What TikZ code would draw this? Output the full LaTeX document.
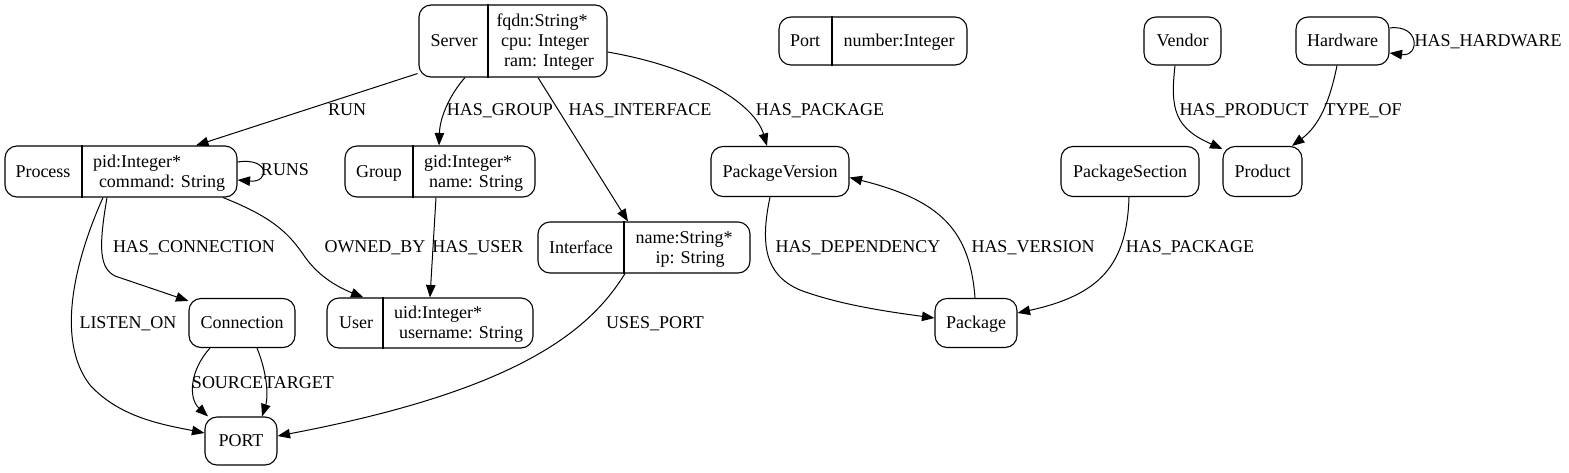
\documentclass[tikz,border=0pt]{standalone}
\usepackage{fontspec}
\setmainfont{Liberation Serif}
\usetikzlibrary{arrows.meta}
\begin{document}
\begin{tikzpicture}[x=1pt,y=-1pt,
  box/.style={draw, rounded corners=12pt, line width=1.1pt, inner sep=0pt,
    font=\fontsize{18}{20}\selectfont, text height=11.9pt, text depth=0pt},
  txt/.style={inner sep=0pt, text height=11.9pt, text depth=0pt, font=\fontsize{18}{20}\selectfont},
  divider/.style={line width=1.1pt},
  edge/.style={draw, line width=1pt, -{Triangle[length=12.5pt,width=9.5pt]}},
  ]
\useasboundingbox (0,0) rectangle (1569,472);

% ---------- nodes ----------
\node[box, minimum width=188pt, minimum height=72pt] (server) at (513,41) {};
\draw[divider] ([xshift=-25pt]server.north) -- ([xshift=-25pt]server.south);
\node[txt] (server-n) at (454,41) {Server};
\node[txt] (server-f1) at (542,21) {fqdn:String*};
\node[txt] (server-f2) at (545,41) {cpu: Integer};
\node[txt] (server-f3) at (549,61) {ram: Integer};

\node[box, minimum width=188pt, minimum height=48pt] (portrec) at (873,41) {};
\draw[divider] ([xshift=-41pt]portrec.north) -- ([xshift=-41pt]portrec.south);
\node[txt] (portrec-n) at (805,41) {Port};
\node[txt] (portrec-f1) at (899,41) {number:Integer};

\node[box, minimum width=77pt, minimum height=48pt] (vendor) at (1182.5,41) {Vendor};
\node[box, minimum width=93pt, minimum height=48pt] (hardware) at (1342.5,41) {Hardware};

\node[box, minimum width=232pt, minimum height=51pt] (process) at (121,171.5) {};
\draw[divider] ([xshift=-39pt]process.north) -- ([xshift=-39pt]process.south);
\node[txt] (process-n) at (43,171.5) {Process};
\node[txt] (process-f1) at (137,161.5) {pid:Integer*};
\node[txt] (process-f2) at (162,181.5) {command: String};

\node[box, minimum width=190pt, minimum height=51pt] (group) at (440,171.5) {};
\draw[divider] ([xshift=-27pt]group.north) -- ([xshift=-27pt]group.south);
\node[txt] (group-n) at (379,171.5) {Group};
\node[txt] (group-f1) at (468,161.5) {gid:Integer*};
\node[txt] (group-f2) at (476,181.5) {name: String};

\node[box, minimum width=138pt, minimum height=50pt] (pv) at (780,171.5) {PackageVersion};
\node[box, minimum width=138pt, minimum height=50pt] (ps) at (1130,171.5) {PackageSection};
\node[box, minimum width=79pt, minimum height=50pt] (product) at (1262.5,171.5) {Product};

\node[box, minimum width=212pt, minimum height=51pt] (interface) at (644,247.5) {};
\draw[divider] ([xshift=-20pt]interface.north) -- ([xshift=-20pt]interface.south);
\node[txt] (interface-n) at (581,247.5) {Interface};
\node[txt] (interface-f1) at (684,237.5) {name:String*};
\node[txt] (interface-f2) at (690,257.5) {ip: String};

\node[box, minimum width=106pt, minimum height=49pt] (connection) at (242,323) {Connection};

\node[box, minimum width=206pt, minimum height=50pt] (user) at (430,323) {};
\draw[divider] ([xshift=-47pt]user.north) -- ([xshift=-47pt]user.south);
\node[txt] (user-n) at (356,323) {User};
\node[txt] (user-f1) at (438,313) {uid:Integer*};
\node[txt] (user-f2) at (461,333) {username: String};

\node[box, minimum width=82pt, minimum height=49pt] (package) at (976,323) {Package};
\node[box, minimum width=72pt, minimum height=48pt] (PORT) at (241,441) {PORT};

% ---------- edges ----------
\draw[edge] ([xshift=-1pt,yshift=4pt]server.south west) -- ([xshift=75pt]process.north);
\draw[edge] ([xshift=-48pt]server.south) .. controls (452,92) and (440,115) .. ([xshift=-1pt]group.north);
\draw[edge] ([xshift=25pt]server.south) -- ([xshift=-16pt]interface.north);
\draw[edge] ([yshift=-11pt]server.east) .. controls (700,68) and (755,105) .. ([xshift=-13pt]pv.north);
\draw[edge] ([yshift=9.5pt]process.east) .. controls (270,157) and (270,183) .. ([yshift=-8.5pt]process.east);
\draw[edge] ([xshift=-14pt]process.south) .. controls (98,250) and (100,268) .. (115,276) -- ([yshift=-3pt]connection.north west);
\draw[edge] ([xshift=102pt]process.south) .. controls (275,218) and (290,235) .. (305,257) .. controls (320,278) and (340,288) .. ([xshift=37pt]user.north west);
\draw[edge] ([xshift=-18pt]process.south) .. controls (75,260) and (55,340) .. (90,385) .. controls (120,418) and (165,425) .. ([yshift=8pt]PORT.west);
\draw[edge] ([xshift=-4pt]group.south) -- (user.north);
\draw[edge] ([xshift=-32pt]connection.south) .. controls (190,370) and (188,398) .. ([xshift=-33pt]PORT.north);
\draw[edge] ([xshift=15pt]connection.south) .. controls (268,375) and (268,398) .. ([xshift=21pt]PORT.north);
\draw[edge] ([xshift=-19pt]interface.south) .. controls (590,330) and (520,390) .. ([yshift=5pt]PORT.east);
\draw[edge] ([xshift=-10pt]pv.south) .. controls (760,245) and (765,275) .. (800,290) .. controls (840,305) and (890,312) .. ([yshift=5pt]package.west);
\draw[edge] ([xshift=-1pt]package.north) .. controls (970,230) and (940,200) .. ([yshift=-6pt]pv.east);
\draw[edge] ([xshift=-1pt]ps.south) .. controls (1127,265) and (1100,295) .. ([yshift=10pt]package.east);
\draw[edge] ([xshift=-7.5pt]vendor.south) .. controls (1170,110) and (1175,128) .. ([yshift=-3pt]product.north west);
\draw[edge] ([xshift=-5.5pt]hardware.south) .. controls (1330,100) and (1320,125) .. ([xshift=29.5pt]product.north);
\draw[edge] ([yshift=13pt]hardware.east) .. controls (1420,24) and (1420,57) .. ([yshift=-12pt]hardware.east);

% ---------- edge labels ----------
\node[txt] (l-run) at (347,110) {RUN};
\node[txt] (l-hasgroup) at (500,110) {HAS\_GROUP};
\node[txt] (l-hasinterface) at (640,110) {HAS\_INTERFACE};
\node[txt] (l-haspackage) at (820,110) {HAS\_PACKAGE};
\node[txt] (l-runs) at (285,170) {RUNS};
\node[txt] (l-hasconnection) at (194,247) {HAS\_CONNECTION};
\node[txt] (l-ownedby) at (375,247) {OWNED\_BY};
\node[txt] (l-hasuser) at (478,247) {HAS\_USER};
\node[txt] (l-listenon) at (128,323) {LISTEN\_ON};
\node[txt] (l-source) at (227.5,383) {SOURCE};
\node[txt] (l-target) at (299,383) {TARGET};
\node[txt] (l-usesport) at (655,323) {USES\_PORT};
\node[txt] (l-hasdependency) at (858,247) {HAS\_DEPENDENCY};
\node[txt] (l-hasversion) at (1033,247) {HAS\_VERSION};
\node[txt] (l-haspackage2) at (1190,247) {HAS\_PACKAGE};
\node[txt] (l-hasproduct) at (1244,110) {HAS\_PRODUCT};
\node[txt] (l-typeof) at (1363,110) {TYPE\_OF};
\node[txt] (l-hashardware) at (1488,41) {HAS\_HARDWARE};
\end{tikzpicture}
\end{document}
